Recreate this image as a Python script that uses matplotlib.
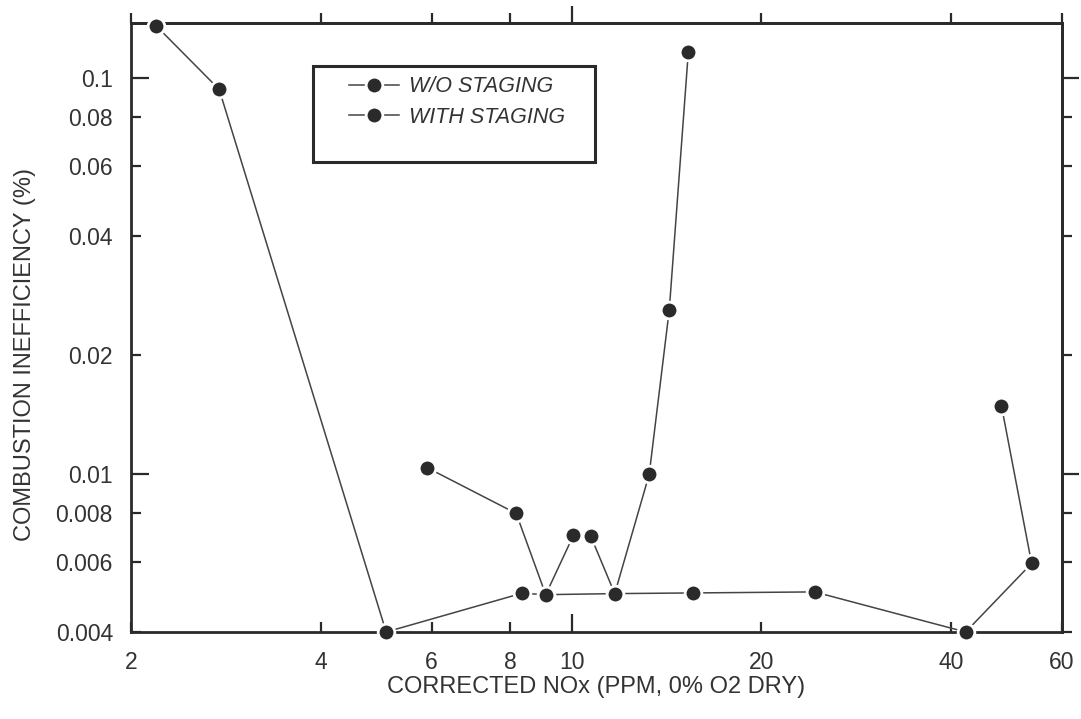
import matplotlib
matplotlib.use("Agg")
import matplotlib.pyplot as plt
from matplotlib.patches import Rectangle

plt.rcParams['font.family'] = ['Liberation Sans', 'DejaVu Sans']

# series
nox_wo = [2.19, 2.76, 5.08, 8.34, 9.10, 11.71, 15.58, 24.3, 42.2, 53.7, 48.1]
ineff_wo = [0.136, 0.0938, 0.0040, 0.00501, 0.00497, 0.00500, 0.00502, 0.00505, 0.0040, 0.00596, 0.0149]

nox_with = [5.90, 8.17, 9.10, 10.07, 10.72, 11.71, 13.28, 14.29, 15.32]
ineff_with = [0.0104, 0.00797, 0.00497, 0.00702, 0.00700, 0.00500, 0.0100, 0.0260, 0.1164]

x_major = [10]
x_minor = [2, 4, 6, 8, 20, 40, 60]
y_major = [0.01, 0.1]
y_minor = [0.004, 0.006, 0.008, 0.02, 0.04, 0.06, 0.08]

ink = '#2a2a2a'
txt = '#333333'

fig = plt.figure(figsize=(10.81, 7.19), dpi=100)
ax = fig.add_axes([0.1212, 0.121, 0.8612, 0.847])

style = dict(color='#444444', lw=1.1, marker='o', ms=12, mfc=ink, mec='white',
             mew=2, clip_on=False, zorder=3)
l1, = ax.plot(nox_wo, ineff_wo, label='W/O STAGING', **style)
l2, = ax.plot(nox_with, ineff_with, label='WITH STAGING', **style)

ax.set_xscale('log')
ax.set_yscale('log')
ax.set_xlim(2, 59.5)
ax.set_ylim(0.004, 0.138)

ax.set_xticks(x_major, labels=[str(v) for v in x_major])
ax.set_xticks(x_minor, labels=[str(v) for v in x_minor], minor=True)
ax.set_yticks(y_major, labels=[f'{v:g}' for v in y_major])
ax.set_yticks(y_minor, labels=[f'{v:g}' for v in y_minor], minor=True)

ax.tick_params(which='both', direction='in', width=1.6, color=ink,
               labelsize=16.5, labelcolor=txt)
ax.tick_params(which='major', length=13)
ax.tick_params(which='minor', length=7)
ax.tick_params(axis='y', which='both', pad=13)
ax.tick_params(axis='x', which='both', pad=14)

for s in ax.spines.values():
    s.set_linewidth(2)
    s.set_color(ink)

# outward ticks on top and right
top = ax.secondary_xaxis('top')
top.set_xticks(x_major, labels=[])
top.set_xticks(x_minor, labels=[], minor=True)
right = ax.secondary_yaxis('right')
right.set_yticks(y_major, labels=[])
right.set_yticks(y_minor, labels=[], minor=True)
for sa in (top, right):
    sa.tick_params(which='both', direction='out', width=1.6, color=ink)
    sa.tick_params(which='major', length=12)
    sa.tick_params(which='minor', length=7)
    for s in sa.spines.values():
        s.set_linewidth(2)
        s.set_color(ink)

ax.set_xlabel('CORRECTED NOx (PPM, 0% O2 DRY)', fontsize=17, color=txt)
ax.xaxis.set_label_coords(0.5, -0.09)
ax.xaxis.label.set_va('center')
ax.set_ylabel('COMBUSTION INEFFICIENCY (%)', fontsize=17, color=txt)
ax.yaxis.set_label_coords(-0.114, 0.456)
ax.yaxis.label.set_va('center')

ax.add_patch(Rectangle((0.1955, 0.772), 0.3025, 0.157, transform=ax.transAxes,
                       fill=False, lw=2.2, ec=ink, zorder=4))
leg = ax.legend(handles=[l1, l2], loc='upper left', bbox_to_anchor=(0.225, 0.927),
                frameon=False, handlelength=2.3, handletextpad=0.5,
                labelspacing=0.45, borderaxespad=0,
                prop={'size': 15.5, 'style': 'italic'})
for t in leg.get_texts():
    t.set_color(txt)

fig.savefig('out.png', dpi=100, facecolor='white')
